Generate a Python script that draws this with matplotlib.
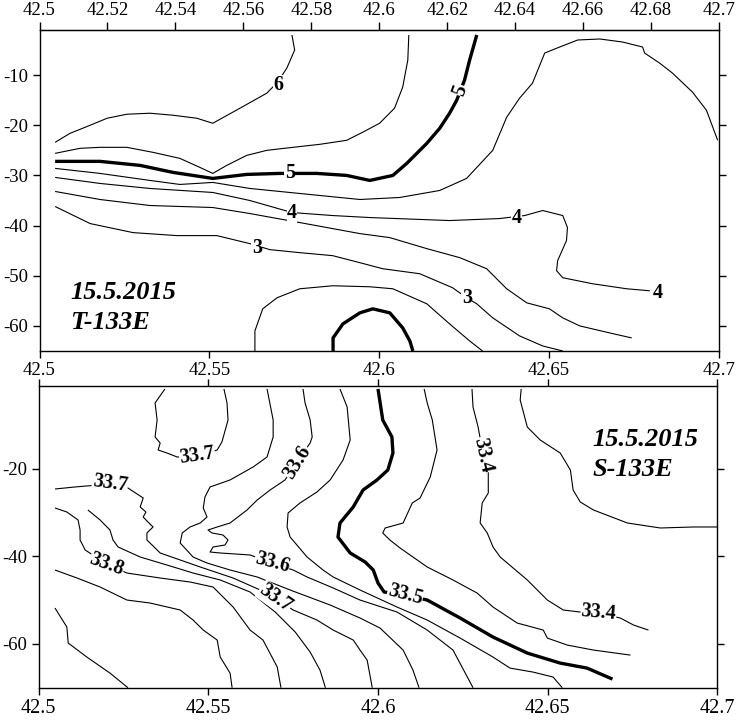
import matplotlib
matplotlib.use("Agg")
import matplotlib.pyplot as plt

plt.rcParams['font.family'] = ['Liberation Serif', 'DejaVu Serif']

# ---------------- TOP PANEL (temperature) : isolines (longitude, depth) ----------------
t60_x = [42.5743, 42.5751, 42.5728, 42.5701, 42.5669, 42.5590, 42.5510, 42.5463, 42.5393, 42.5325,
         42.5257, 42.5199, 42.5149, 42.5090, 42.5046]
t60_y = [-2.0, -5.0, -8.6, -11.4, -13.6, -16.6, -19.6, -18.6, -18.0, -17.6, -17.8, -18.6, -20.0, -21.6, -23.4]

t55_x = [42.5046, 42.5119, 42.5178, 42.5257, 42.5334, 42.5413, 42.5472, 42.5510, 42.5551, 42.5610,
         42.5669, 42.5746, 42.5825, 42.5904, 42.5951, 42.6001, 42.6045, 42.6069, 42.6084, 42.6087]
t55_y = [-25.6, -24.6, -24.4, -24.4, -25.4, -26.6, -28.4, -29.6, -28.0, -26.0,
         -25.0, -24.4, -23.8, -23.0, -21.4, -19.6, -16.6, -12.4, -7.0, -2.0]

t50_x = [42.5046, 42.5178, 42.5296, 42.5393, 42.5510, 42.5610, 42.5707, 42.5816, 42.5904, 42.5972,
         42.6040, 42.6081, 42.6140, 42.6178, 42.6207, 42.6228, 42.6251, 42.6266, 42.6287]
t50_y = [-27.2, -27.2, -28.0, -29.4, -30.6, -29.8, -29.6, -29.6, -30.0, -31.0,
         -30.0, -27.6, -23.6, -20.6, -17.6, -15.0, -11.0, -7.0, -2.0]

t45_x = [42.5046, 42.5178, 42.5325, 42.5413, 42.5510, 42.5619, 42.5766, 42.5943, 42.6060, 42.6178,
         42.6257, 42.6334, 42.6375, 42.6413, 42.6451, 42.6487, 42.6531, 42.6584, 42.6649, 42.6716,
         42.6775, 42.6781, 42.6825, 42.6863, 42.6922, 42.6963, 42.6996]
t45_y = [-28.6, -29.6, -31.0, -31.8, -31.4, -32.6, -33.6, -34.8, -34.4, -33.0,
         -30.6, -25.0, -18.4, -14.6, -11.6, -5.6, -4.4, -3.0, -2.8, -3.4,
         -4.4, -5.6, -7.6, -9.6, -13.4, -17.0, -23.0]

t40_x = [42.5046, 42.5178, 42.5325, 42.5510, 42.5619, 42.5743, 42.5863, 42.5972, 42.6207, 42.6354,
         42.6428, 42.6481, 42.6540, 42.6554, 42.6551, 42.6525, 42.6522, 42.6540, 42.6628, 42.6728,
         42.6796]
t40_y = [-30.4, -31.6, -32.6, -33.4, -35.0, -37.4, -38.0, -38.4, -39.0, -38.6,
         -38.0, -37.0, -38.0, -40.4, -43.0, -47.0, -49.0, -50.4, -51.6, -52.6,
         -53.0]

t35_x = [42.5046, 42.5178, 42.5325, 42.5510, 42.5619, 42.5766, 42.5943, 42.6031, 42.6140, 42.6237,
         42.6316, 42.6375, 42.6434, 42.6501, 42.6540, 42.6590, 42.6678, 42.6743]
t35_y = [-33.2, -34.8, -36.0, -36.4, -37.6, -39.4, -41.6, -42.4, -44.6, -46.4,
         -48.6, -52.6, -55.4, -56.6, -58.4, -60.0, -61.4, -62.4]

t30_x = [42.5046, 42.5149, 42.5275, 42.5404, 42.5522, 42.5619, 42.5678, 42.5766, 42.5863, 42.5943,
         42.6010, 42.6119, 42.6216, 42.6257, 42.6287, 42.6334, 42.6413, 42.6481, 42.6540]
t30_y = [-36.2, -39.6, -41.4, -42.0, -42.0, -43.6, -44.8, -45.4, -46.0, -47.4,
         -48.6, -49.6, -52.4, -54.4, -55.6, -58.4, -62.0, -64.0, -65.0]

t25_x = [42.5634, 42.5634, 42.5657, 42.5699, 42.5766, 42.5863, 42.5972, 42.6040, 42.6140, 42.6207,
         42.6266, 42.6304]
t25_y = [-65.0, -61.0, -56.6, -54.4, -52.6, -52.0, -52.2, -52.6, -55.6, -59.6, -63.0, -65.0]

t20_x = [42.5864, 42.5864, 42.5893, 42.5943, 42.5981, 42.6031, 42.6069, 42.6090, 42.6099]
t20_y = [-65.0, -62.4, -59.6, -57.4, -56.6, -57.4, -60.4, -63.0, -65.0]

top_lines = [(t60_x, t60_y, False), (t55_x, t55_y, False), (t50_x, t50_y, True),
             (t45_x, t45_y, False), (t40_x, t40_y, False), (t35_x, t35_y, False),
             (t30_x, t30_y, False), (t25_x, t25_y, False), (t20_x, t20_y, True)]

top_label_text = ['6', '5', '5', '4', '4', '4', '3', '3']
top_label_x = [42.5702, 42.5737, 42.6237, 42.5743, 42.6405, 42.6820, 42.5640, 42.6258]
top_label_y = [-12.0, -29.6, -13.0, -37.4, -38.4, -53.4, -44.4, -54.4]
top_label_rot = [0, 0, 70, 0, 0, 0, 0, 0]

# ---------------- BOTTOM PANEL (salinity) ----------------
s370a_x = [42.5372, 42.5343, 42.5349, 42.5343, 42.5358, 42.5352, 42.5378, 42.5408, 42.5467, 42.5526,
           42.5540, 42.5558, 42.5555, 42.5546]
s370a_y = [-1.75, -4.95, -8.84, -12.72, -14.09, -15.69, -16.38, -17.29, -17.29, -15.69,
           -13.86, -8.84, -4.95, -1.75]

s350_x = [42.6000, 42.6014, 42.6041, 42.6044, 42.6029, 42.5997, 42.5956, 42.5927, 42.5888, 42.5882,
          42.5918, 42.5962, 42.5986, 42.6000, 42.6018, 42.6080, 42.6145, 42.6242, 42.6339, 42.6440,
          42.6537, 42.6616, 42.6691]
s350_y = [-1.75, -8.84, -12.72, -16.38, -20.26, -22.54, -24.83, -28.71, -32.37, -35.57,
          -39.22, -41.28, -43.11, -46.08, -48.14, -48.83, -49.97, -54.08, -58.43, -62.09,
          -64.38, -65.52, -68.03]

s345_x = [42.6136, 42.6145, 42.6160, 42.6174, 42.6154, 42.6124, 42.6101, 42.6074, 42.6021, 42.6014,
          42.6035, 42.6065, 42.6145, 42.6221, 42.6292, 42.6339, 42.6410, 42.6487, 42.6499, 42.6558,
          42.6635, 42.6744]
s345_y = [-1.75, -4.95, -8.84, -15.69, -21.86, -26.66, -27.80, -32.37, -33.51, -34.65,
          -36.25, -38.08, -42.42, -45.39, -48.37, -51.57, -55.22, -56.83, -58.66, -60.26,
          -61.40, -62.55]

s340_x = [42.6277, 42.6280, 42.6295, 42.6310, 42.6325, 42.6325, 42.6307, 42.6301, 42.6322, 42.6339,
          42.6360, 42.6440, 42.6499, 42.6546, 42.6596, 42.6650, 42.6714, 42.6753, 42.6797]
s340_y = [-1.75, -5.87, -10.44, -16.83, -20.26, -25.51, -27.80, -32.37, -34.65, -37.85,
          -40.14, -45.39, -49.97, -52.25, -52.71, -52.94, -54.08, -55.68, -56.83]

s335_x = [42.6422, 42.6419, 42.6440, 42.6478, 42.6537, 42.6567, 42.6575, 42.6596, 42.6635, 42.6735,
          42.6832, 42.6929, 42.7000]
s335_y = [-1.75, -4.27, -10.44, -13.41, -16.38, -20.26, -24.83, -27.57, -29.40, -32.37,
          -33.51, -33.28, -33.28]

s355_x = [42.5888, 42.5909, 42.5918, 42.5897, 42.5859, 42.5820, 42.5770, 42.5735, 42.5732, 42.5741,
          42.5791, 42.5838, 42.5868, 42.5947, 42.6056, 42.6145, 42.6242, 42.6339, 42.6389, 42.6457,
          42.6516, 42.6543]
s355_y = [-1.75, -5.87, -13.41, -17.98, -22.54, -25.29, -27.80, -30.08, -33.28, -35.57,
          -40.14, -43.11, -44.71, -47.68, -51.57, -54.54, -58.66, -63.00, -65.52, -66.43,
          -67.57, -70.0]

s360_x = [42.5779, 42.5785, 42.5800, 42.5806, 42.5800, 42.5761, 42.5726, 42.5682, 42.5644, 42.5614,
          42.5564, 42.5526, 42.5499, 42.5511, 42.5543, 42.5558, 42.5549, 42.5514, 42.5505, 42.5535,
          42.5623, 42.5688, 42.5750, 42.5791, 42.5868, 42.5947, 42.6056, 42.6145, 42.6221, 42.6280]
s360_y = [-1.75, -4.95, -8.84, -12.72, -14.09, -18.43, -22.54, -24.83, -27.11, -29.40,
          -32.37, -33.28, -33.97, -34.65, -35.11, -36.25, -37.40, -37.85, -39.00, -39.22,
          -39.68, -41.51, -43.11, -44.71, -47.22, -49.97, -52.71, -56.83, -61.40, -70.0]

s365_x = [42.5673, 42.5691, 42.5691, 42.5673, 42.5632, 42.5564, 42.5505, 42.5490, 42.5485, 42.5496,
          42.5476, 42.5446, 42.5423, 42.5417, 42.5455, 42.5496, 42.5564, 42.5644, 42.5741, 42.5859,
          42.5947, 42.6006, 42.6074, 42.6103, 42.6121]
s365_y = [-1.75, -8.84, -12.72, -17.29, -19.57, -22.54, -24.14, -26.43, -28.94, -31.00,
          -32.37, -33.28, -34.65, -36.94, -40.14, -41.51, -43.11, -44.71, -47.68, -51.11,
          -54.08, -56.37, -61.40, -65.97, -70.0]

s370_x = [42.5048, 42.5107, 42.5210, 42.5263, 42.5308, 42.5299, 42.5316, 42.5308, 42.5322, 42.5337,
          42.5319, 42.5319, 42.5358, 42.5476, 42.5573, 42.5653, 42.5697, 42.5750, 42.5820, 42.5868,
          42.5927, 42.5947, 42.5968, 42.5983]
s370_y = [-24.60, -24.14, -23.46, -24.37, -26.66, -28.71, -29.86, -31.00, -32.14, -33.28,
          -34.65, -36.25, -39.22, -42.42, -44.94, -47.68, -49.51, -52.25, -54.54, -56.83,
          -59.11, -61.40, -63.69, -70.0]

s375_x = [42.5145, 42.5181, 42.5210, 42.5219, 42.5234, 42.5299, 42.5378, 42.5455, 42.5535, 42.5623,
          42.5697, 42.5756, 42.5800, 42.5829, 42.5845]
s375_y = [-29.40, -31.68, -33.97, -36.25, -37.85, -40.14, -41.97, -43.80, -45.39, -48.14,
          -52.71, -57.28, -61.85, -65.97, -70.0]

s380_x = [42.5048, 42.5083, 42.5116, 42.5122, 42.5122, 42.5137, 42.5201, 42.5260, 42.5358, 42.5446,
          42.5514, 42.5573, 42.5623, 42.5661, 42.5703, 42.5714]
s380_y = [-28.94, -29.86, -31.68, -33.97, -36.25, -38.54, -41.74, -43.80, -44.94, -45.85,
          -47.00, -51.57, -56.83, -59.11, -65.27, -70.0]

s385_x = [42.5048, 42.5113, 42.5181, 42.5260, 42.5328, 42.5417, 42.5455, 42.5485, 42.5526, 42.5535,
          42.5564, 42.5570]
s385_y = [-43.11, -44.94, -47.00, -49.97, -50.65, -52.25, -54.54, -56.83, -59.11, -63.00,
          -66.66, -70.0]

s390_x = [42.5048, 42.5083, 42.5087, 42.5142, 42.5210, 42.5263]
s390_y = [-51.80, -56.14, -59.80, -63.00, -66.66, -70.0]

bottom_lines = [(s370a_x, s370a_y, False), (s350_x, s350_y, True), (s345_x, s345_y, False),
                (s340_x, s340_y, False), (s335_x, s335_y, False), (s355_x, s355_y, False),
                (s360_x, s360_y, False), (s365_x, s365_y, False), (s370_x, s370_y, False),
                (s375_x, s375_y, False), (s380_x, s380_y, False), (s385_x, s385_y, False),
                (s390_x, s390_y, False)]

bot_label_text = ['33.7', '33.7', '33.6', '33.6', '33.4', '33.4', '33.5', '33.8', '33.7']
bot_label_x = [42.5467, 42.5210, 42.5761, 42.5688, 42.6310, 42.6650, 42.6080, 42.5201, 42.5697]
bot_label_y = [-17.06, -23.46, -18.43, -41.51, -16.83, -52.94, -48.83, -41.74, -49.51]
bot_label_rot = [8, -8, 58, -15, -78, -5, -15, -20, -35]

top_xticks_top = [42.5, 42.52, 42.54, 42.56, 42.58, 42.6, 42.62, 42.64, 42.66, 42.68, 42.7]
xticks_05 = [42.5, 42.55, 42.6, 42.65, 42.7]
top_yticks = [-10, -20, -30, -40, -50, -60]
bot_yticks = [-20, -40, -60]

fig = plt.figure(figsize=(7.37, 7.22), dpi=100)
axT = fig.add_axes([0.0536, 0.5139, 0.9220, 0.4446])
axB = fig.add_axes([0.0525, 0.0475, 0.9208, 0.4183])

thin_lw, bold_lw = 0.8, 2.4
lab_kw = dict(fontsize=14.5, fontweight='bold', ha='center', va='center',
              bbox=dict(fc='white', ec='none', pad=0.3), zorder=5)

for xs, ys, bold in top_lines:
    axT.plot(xs, ys, color='black', lw=bold_lw if bold else thin_lw, solid_capstyle='butt')
for t, x, y, r in zip(top_label_text, top_label_x, top_label_y, top_label_rot):
    axT.text(x, y, t, rotation=r, **lab_kw)

for xs, ys, bold in bottom_lines:
    axB.plot(xs, ys, color='black', lw=bold_lw if bold else thin_lw, solid_capstyle='butt')
for t, x, y, r in zip(bot_label_text, bot_label_x, bot_label_y, bot_label_rot):
    axB.text(x, y, t, rotation=r, rotation_mode='anchor', **lab_kw)

axT.set_xlim(42.5, 42.7)
axT.set_ylim(-65, -1)
axB.set_xlim(42.5, 42.7)
axB.set_ylim(-70, -1)

def fmt(v):
    s = ('%.2f' % v).rstrip('0')
    return s

for ax in (axT, axB):
    for sp in ax.spines.values():
        sp.set_linewidth(1.0)
    ax.tick_params(direction='out', length=5, width=1.0, labelsize=13.5, pad=3,
                   top=True, right=True, bottom=True, left=True,
                   labeltop=False, labelright=False)

# top panel: 0.02 ticks with labels on top, 0.05 ticks with labels below
axT.set_xticks(xticks_05)
axT.set_xticklabels([fmt(v) for v in xticks_05])
secT = axT.secondary_xaxis('top')
secT.set_xticks(top_xticks_top)
secT.set_xticklabels([fmt(v) for v in top_xticks_top])
secT.tick_params(direction='out', length=6, width=1.0, labelsize=13.5, pad=2)
axT.tick_params(axis='x', top=False)
axT.set_yticks(top_yticks)
axT.set_yticklabels([str(v) for v in top_yticks])

axB.set_xticks(xticks_05)
axB.set_xticklabels([fmt(v) for v in xticks_05])
axB.tick_params(axis='x', labelsize=14.5)
axB.set_yticks(bot_yticks)
axB.set_yticklabels([str(v) for v in bot_yticks])

title_kw = dict(fontsize=19, fontweight='bold', fontstyle='italic', ha='left', va='baseline')
axT.text(42.509, -54.6, '15.5.2015', **title_kw)
axT.text(42.509, -60.6, 'T-133E', **title_kw)
axB.text(42.6631, -14.78, '15.5.2015', **title_kw)
axB.text(42.6631, -21.63, 'S-133E', **title_kw)

fig.savefig('out.png', dpi=100)
